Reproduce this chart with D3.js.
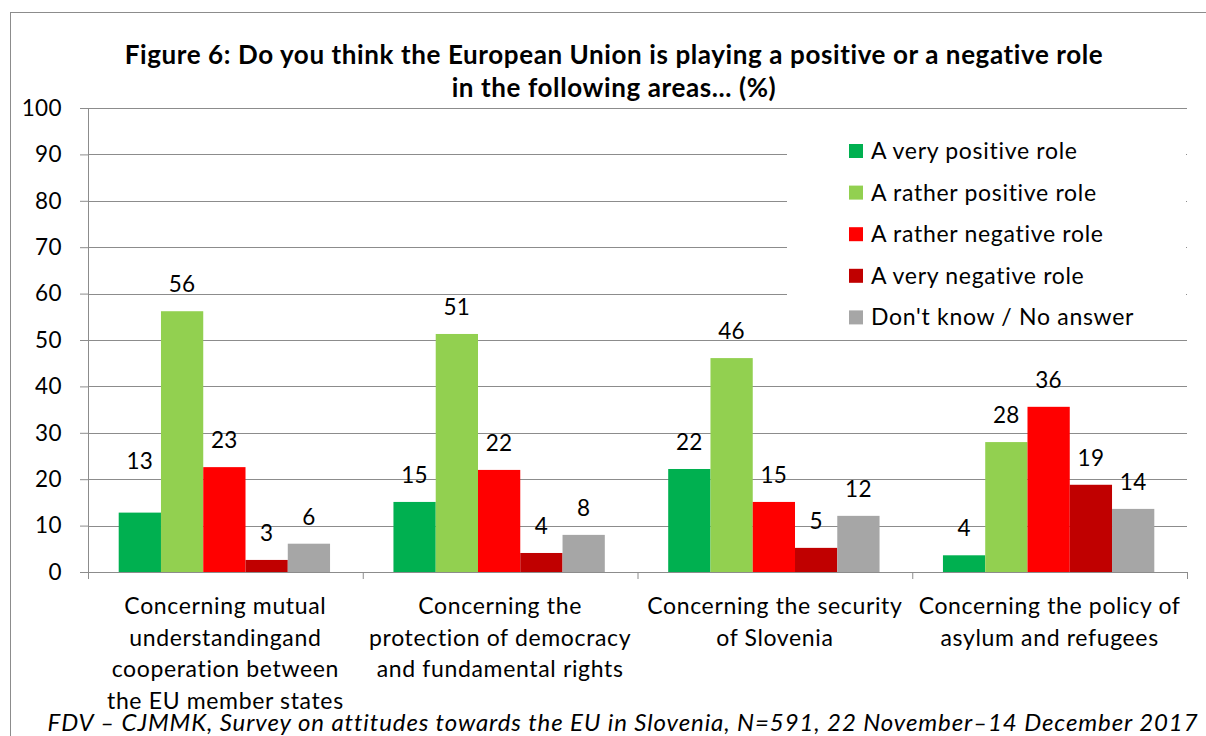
<!DOCTYPE html>
<html>
<head>
<meta charset="utf-8">
<script src="https://cdn.jsdelivr.net/npm/d3@7"></script>
<style>
  html, body { margin: 0; padding: 0; background: #fff; }
  svg { display: block; }
  text { font-family: Lato, "Open Sans", sans-serif; fill: #000; font-variant-numeric: tabular-nums; }
</style>
</head>
<body>
<svg id="chart" width="1206" height="736"></svg>
<script>
// ---------------- data ----------------
const titleLines = [
  "Figure 6: Do you think the European Union is playing a positive or a negative role",
  "in the following areas... (%)"
];
const categories = [
  "Concerning mutual|understandingand|cooperation between|the EU member states",
  "Concerning the|protection of democracy|and fundamental rights",
  "Concerning the security|of Slovenia",
  "Concerning the policy of|asylum and refugees"
];
const seriesNames = [
  "A very positive role",
  "A rather positive role",
  "A rather negative role",
  "A very negative role",
  "Don't know / No answer"
];
const seriesColors = ["#00B050", "#92D050", "#FF0000", "#C00000", "#A6A6A6"];
const veryPositive   = [12.8, 15.1, 22.2, 3.6];
const ratherPositive = [56.2, 51.3, 46.1, 28.0];
const ratherNegative = [22.6, 22.0, 15.1, 35.6];
const veryNegative   = [2.6, 4.1, 5.2, 18.8];
const dontKnow       = [6.1, 8.0, 12.1, 13.6];
const yTicks = [0, 10, 20, 30, 40, 50, 60, 70, 80, 90, 100];
const footer = "FDV \u2013 CJMMK, Survey on attitudes towards the EU in Slovenia, N=591, 22 November\u201314 December 2017";

const seriesValues = [veryPositive, ratherPositive, ratherNegative, veryNegative, dontKnow];

// ---------------- layout ----------------
const svg = d3.select("#chart");
const plot = { left: 88, right: 1187, top: 108, bottom: 572 };
const gridColor = "#8c8c8c";

svg.append("rect").attr("width", 1206).attr("height", 736).attr("fill", "#fff");
// outer chart border
svg.append("rect")
  .attr("x", 10.5).attr("y", 12.5).attr("width", 1220).attr("height", 760)
  .attr("fill", "none").attr("stroke", "#8c8c8c").attr("stroke-width", 1);

const y = d3.scaleLinear().domain([0, 100]).range([plot.bottom, plot.top]);
const x0 = d3.scaleBand().domain(d3.range(categories.length)).range([plot.left, plot.right]).padding(0);
const bw = x0.bandwidth();
const barW = bw / 6.5; // gap width 150%
const x1 = d3.scaleBand().domain(d3.range(seriesNames.length))
  .range([bw / 2 - 2.5 * barW - 1, bw / 2 + 2.5 * barW - 1]).padding(0);

// gridlines + y axis
const yAxis = d3.axisLeft(y).tickValues(yTicks).tickSize(8).tickFormat(d3.format("d"));
const gY = svg.append("g").attr("transform", `translate(${plot.left},0)`).call(yAxis);
gY.select(".domain").attr("stroke", gridColor);
gY.selectAll(".tick line").attr("stroke", gridColor);
gY.selectAll(".tick text").attr("x", -26).attr("font-size", 22.5).attr("font-family", "Lato")
  .attr("letter-spacing", 0.4).attr("fill", "#000");
svg.append("g").selectAll("line").data(yTicks.filter(d => d > 0)).join("line")
  .attr("x1", plot.left).attr("x2", plot.right)
  .attr("y1", d => Math.round(y(d)) + 0.5).attr("y2", d => Math.round(y(d)) + 0.5)
  .attr("stroke", gridColor).attr("stroke-width", 1);

// x axis
const xAxis = d3.axisBottom(d3.scaleLinear().domain([0, categories.length]).range([plot.left, plot.right]))
  .tickValues(d3.range(categories.length + 1)).tickSize(7).tickFormat("");
const gX = svg.append("g").attr("transform", `translate(0,${plot.bottom})`).call(xAxis);
gX.select(".domain").attr("stroke", gridColor);
gX.selectAll(".tick line").attr("stroke", gridColor);

// bars
const groups = svg.append("g").selectAll("g").data(categories).join("g")
  .attr("transform", (d, i) => `translate(${x0(i)},0)`);
groups.each(function(c, ci) {
  const g = d3.select(this);
  const vals = seriesValues.map((arr, si) => ({ si, v: arr[ci] }));
  g.selectAll("rect").data(vals).join("rect")
    .attr("x", d => x1(d.si)).attr("width", x1.bandwidth())
    .attr("y", d => y(d.v)).attr("height", d => y(0) - y(d.v))
    .attr("fill", d => seriesColors[d.si]);
  g.selectAll("text.lbl").data(vals).join("text").attr("class", "lbl")
    .attr("x", d => x1(d.si) + x1.bandwidth() / 2)
    .attr("y", d => y(d.v) - 19 - (ci === 0 && d.si === 0 ? 25 : 0))
    .attr("text-anchor", "middle").attr("font-size", 22.5).attr("letter-spacing", 0.3)
    .text(d => d3.format(".0f")(d.v));
});

// category labels
categories.forEach((c, i) => {
  const lines = c.split("|");
  const t = svg.append("text").attr("text-anchor", "middle").attr("font-size", 23).attr("letter-spacing", 0.65);
  lines.forEach((ln, k) => {
    t.append("tspan").attr("x", x0(i) + bw / 2).attr("y", 614 + k * 31.6).text(ln);
  });
});

// title
svg.append("g").selectAll("text").data(titleLines).join("text")
  .attr("x", 614).attr("y", (d, i) => 64 + i * 33)
  .attr("text-anchor", "middle").attr("font-size", 26).attr("font-weight", "bold")
  .attr("letter-spacing", 0.6)
  .text(d => d);

// legend
const lg = svg.append("g");
lg.append("rect").attr("x", 787).attr("y", 110).attr("width", 399).attr("height", 229.5).attr("fill", "#fff");
seriesNames.forEach((n, i) => {
  const cy = 151 + i * 41.6;
  lg.append("rect").attr("x", 849).attr("y", cy - 7).attr("width", 14).attr("height", 14).attr("fill", seriesColors[i]);
  lg.append("text").attr("x", 871).attr("y", cy + 8).attr("font-size", 23).attr("letter-spacing", 0.7).text(n);
});

// footer
svg.append("text").attr("x", 623).attr("y", 731).attr("text-anchor", "middle")
  .attr("font-size", 24).attr("font-style", "italic").attr("letter-spacing", 0.9).text(footer);
</script>
</body>
</html>
